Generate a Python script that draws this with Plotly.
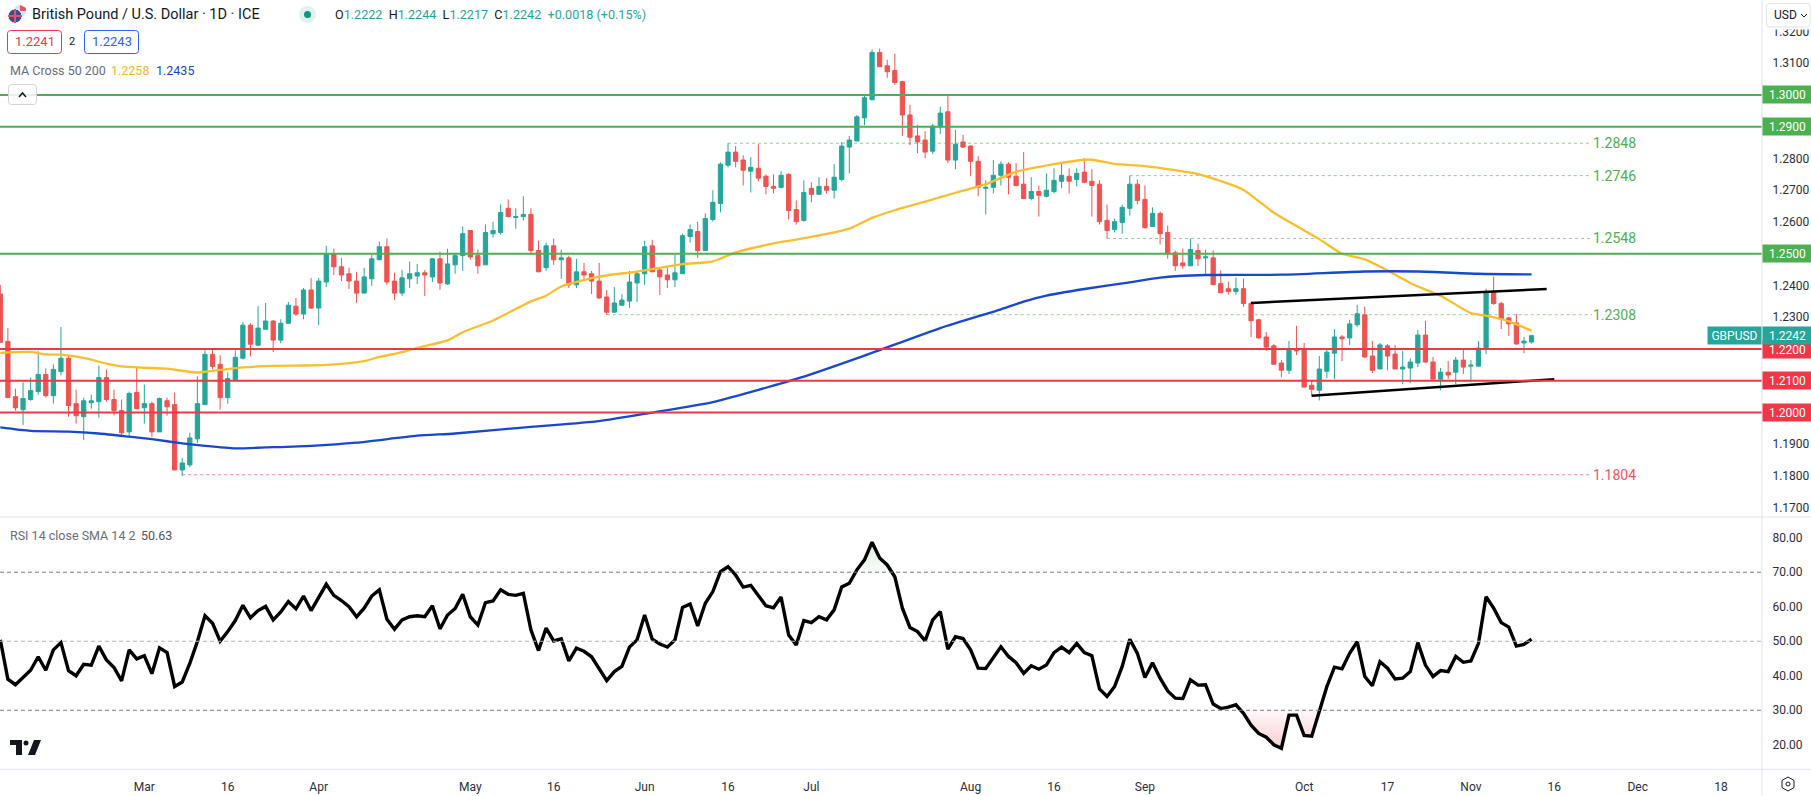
import plotly.graph_objects as go

# GBPUSD daily bars. Index 0 is the first bar of March
bar_index = list(range(-19, 184))

opens = [
    1.2373,1.2224,1.2050,1.2009,1.2041,1.2066,1.2120,1.2053,1.2129,1.2171,
    1.2028,1.1987,1.2031,1.2034,1.2110,1.2041,1.2006,1.1939,1.2063,
    1.2015,1.2028,1.1939,1.2037,1.2025,1.1819,1.1835,1.1917,1.2025,1.2183,
    1.2152,1.2047,1.2104,1.2171,1.2275,1.2212,1.2262,1.2288,1.2228,1.2281,
    1.2335,1.2310,1.2386,1.2329,1.2411,1.2500,1.2459,1.2437,1.2414,1.2376,
    1.2421,1.2481,1.2522,1.2414,1.2376,1.2421,1.2430,1.2440,1.2427,1.2484,
    1.2405,1.2465,1.2494,1.2573,1.2494,1.2465,1.2563,1.2567,1.2643,1.2614,
    1.2617,1.2624,1.2510,1.2456,1.2525,1.2481,1.2487,1.2402,1.2443,1.2437,
    1.2414,1.2364,1.2316,1.2338,1.2351,1.2408,1.2437,1.2525,1.2449,1.2433,
    1.2418,1.2437,1.2554,1.2570,1.2510,1.2608,1.2658,1.2779,1.2820,1.2795,
    1.2760,1.2769,1.2744,1.2712,1.2709,1.2750,1.2639,1.2605,1.2706,1.2687,
    1.2712,1.2700,1.2734,1.2836,1.2855,1.2928,1.2985,1.3134,1.3092,1.3077,
    1.3042,1.2937,1.2871,1.2858,1.2823,1.2899,1.2947,1.2795,1.2852,1.2839,
    1.2791,1.2706,1.2709,1.2747,1.2782,1.2744,1.2719,1.2674,1.2696,1.2681,
    1.2696,1.2728,1.2744,1.2734,1.2757,1.2728,1.2719,1.2605,1.2576,1.2598,
    1.2643,1.2719,1.2671,1.2586,1.2627,1.2567,1.2503,1.2471,1.2462,1.2510,
    1.2487,1.2487,1.2406,1.2390,1.2381,1.2390,1.2343,1.2292,1.2238,1.2210,
    1.2156,1.2133,1.2200,1.2200,1.2086,1.2070,1.2130,1.2187,1.2238,1.2235,
    1.2276,1.2308,1.2178,1.2137,1.2210,1.2184,1.2137,1.2140,1.2156,1.2244,
    1.2159,1.2105,1.2127,1.2127,1.2165,1.2146,1.2146,1.2200,1.2377,1.2343,
    1.2298,1.2282,1.2219,1.2222,
]
highs = [
    1.2402,1.2266,1.2075,1.2095,1.2110,1.2193,1.2139,1.2152,1.2269,1.2180,
    1.2072,1.2047,1.2056,1.2148,1.2136,1.2072,1.2041,1.2066,1.2142,
    1.2088,1.2034,1.2047,1.2047,1.2063,1.1857,1.1936,1.2114,1.2196,1.2199,
    1.2180,1.2126,1.2196,1.2285,1.2281,1.2335,1.2345,1.2291,1.2294,1.2348,
    1.2361,1.2392,1.2424,1.2424,1.2525,1.2516,1.2487,1.2456,1.2443,1.2456,
    1.2497,1.2538,1.2548,1.2440,1.2449,1.2475,1.2468,1.2449,1.2487,1.2506,
    1.2516,1.2500,1.2586,1.2573,1.2513,1.2592,1.2601,1.2655,1.2671,1.2643,
    1.2681,1.2643,1.2541,1.2535,1.2548,1.2513,1.2494,1.2484,1.2471,1.2446,
    1.2471,1.2386,1.2395,1.2373,1.2446,1.2443,1.2541,1.2544,1.2456,1.2459,
    1.2497,1.2563,1.2592,1.2601,1.2627,1.2700,1.2788,1.2848,1.2839,1.2810,
    1.2804,1.2845,1.2750,1.2750,1.2760,1.2753,1.2668,1.2731,1.2725,1.2741,
    1.2738,1.2782,1.2852,1.2871,1.2937,1.3000,1.3143,1.3146,1.3111,1.3130,
    1.3045,1.2969,1.2906,1.2886,1.2909,1.2963,1.2997,1.2890,1.2874,1.2842,
    1.2807,1.2731,1.2795,1.2791,1.2788,1.2785,1.2820,1.2741,1.2715,1.2753,
    1.2769,1.2788,1.2769,1.2769,1.2801,1.2766,1.2731,1.2655,1.2611,1.2655,
    1.2746,1.2734,1.2715,1.2646,1.2633,1.2589,1.2510,1.2516,1.2548,1.2532,
    1.2513,1.2510,1.2447,1.2412,1.2425,1.2422,1.2349,1.2295,1.2254,1.2216,
    1.2165,1.2225,1.2273,1.2219,1.2099,1.2178,1.2197,1.2263,1.2244,1.2292,
    1.2339,1.2333,1.2225,1.2219,1.2216,1.2213,1.2194,1.2171,1.2260,1.2289,
    1.2175,1.2140,1.2162,1.2175,1.2200,1.2165,1.2225,1.2390,1.2428,1.2349,
    1.2301,1.2311,1.2238,1.2244,
]
lows = [
    1.2221,1.2047,1.2006,1.1961,1.2037,1.2056,1.2047,1.2028,1.2117,1.1987,
    1.1965,1.1914,1.2012,1.1984,1.2034,1.1990,1.1927,1.1923,1.2012,
    1.1965,1.1923,1.1939,1.1990,1.1819,1.1800,1.1828,1.1904,1.2025,1.2136,
    1.2009,1.2028,1.2101,1.2167,1.2177,1.2209,1.2262,1.2190,1.2218,1.2281,
    1.2304,1.2294,1.2326,1.2275,1.2395,1.2433,1.2414,1.2389,1.2345,1.2376,
    1.2399,1.2481,1.2402,1.2354,1.2367,1.2392,1.2405,1.2367,1.2411,1.2386,
    1.2402,1.2437,1.2446,1.2481,1.2437,1.2465,1.2551,1.2560,1.2614,1.2579,
    1.2605,1.2497,1.2443,1.2446,1.2465,1.2421,1.2392,1.2392,1.2414,1.2373,
    1.2357,1.2307,1.2313,1.2335,1.2329,1.2348,1.2402,1.2443,1.2370,1.2392,
    1.2395,1.2437,1.2535,1.2487,1.2510,1.2601,1.2630,1.2772,1.2772,1.2715,
    1.2693,1.2728,1.2687,1.2690,1.2706,1.2608,1.2592,1.2601,1.2662,1.2687,
    1.2690,1.2674,1.2728,1.2753,1.2855,1.2905,1.2985,1.3089,1.3054,1.3032,
    1.2871,1.2842,1.2817,1.2801,1.2814,1.2877,1.2785,1.2766,1.2833,1.2744,
    1.2681,1.2624,1.2690,1.2715,1.2687,1.2712,1.2671,1.2668,1.2617,1.2677,
    1.2690,1.2706,1.2690,1.2712,1.2722,1.2617,1.2592,1.2548,1.2567,1.2563,
    1.2620,1.2655,1.2579,1.2586,1.2529,1.2484,1.2446,1.2452,1.2462,1.2462,
    1.2437,1.2400,1.2377,1.2371,1.2371,1.2333,1.2238,1.2232,1.2194,1.2152,
    1.2111,1.2121,1.2181,1.2080,1.2051,1.2038,1.2108,1.2105,1.2162,1.2213,
    1.2270,1.2171,1.2124,1.2137,1.2133,1.2137,1.2089,1.2092,1.2143,1.2156,
    1.2105,1.2070,1.2105,1.2089,1.2121,1.2095,1.2146,1.2184,1.2339,1.2263,
    1.2241,1.2213,1.2187,1.2217,
]
closes = [
    1.2221,1.2047,1.2015,1.2044,1.2069,1.2120,1.2053,1.2136,1.2171,1.2022,
    1.1990,1.2037,1.2037,1.2110,1.2041,1.2006,1.1936,1.2060,1.2012,
    1.2028,1.1939,1.2044,1.2018,1.1819,1.1841,1.1920,1.2028,1.2183,1.2145,
    1.2047,1.2107,1.2174,1.2275,1.2215,1.2266,1.2288,1.2228,1.2281,1.2338,
    1.2310,1.2386,1.2329,1.2414,1.2500,1.2459,1.2433,1.2414,1.2376,1.2427,
    1.2484,1.2522,1.2411,1.2376,1.2424,1.2437,1.2440,1.2433,1.2484,1.2408,
    1.2468,1.2494,1.2563,1.2490,1.2462,1.2567,1.2573,1.2630,1.2617,1.2617,
    1.2624,1.2510,1.2443,1.2525,1.2481,1.2487,1.2402,1.2443,1.2433,1.2414,
    1.2361,1.2316,1.2345,1.2354,1.2411,1.2437,1.2522,1.2443,1.2427,1.2418,
    1.2440,1.2557,1.2576,1.2510,1.2611,1.2662,1.2782,1.2820,1.2791,1.2763,
    1.2772,1.2738,1.2712,1.2706,1.2747,1.2636,1.2601,1.2693,1.2687,1.2712,
    1.2700,1.2741,1.2839,1.2858,1.2931,1.2991,1.3134,1.3089,1.3073,1.3039,
    1.2937,1.2867,1.2852,1.2820,1.2902,1.2943,1.2795,1.2845,1.2836,1.2791,
    1.2709,1.2709,1.2747,1.2782,1.2741,1.2715,1.2674,1.2696,1.2684,1.2700,
    1.2731,1.2747,1.2728,1.2753,1.2725,1.2715,1.2601,1.2573,1.2601,1.2646,
    1.2719,1.2668,1.2582,1.2627,1.2563,1.2500,1.2462,1.2462,1.2513,1.2484,
    1.2490,1.2403,1.2377,1.2381,1.2390,1.2343,1.2289,1.2235,1.2206,1.2152,
    1.2133,1.2200,1.2194,1.2080,1.2073,1.2137,1.2190,1.2238,1.2232,1.2279,
    1.2311,1.2175,1.2133,1.2213,1.2178,1.2137,1.2143,1.2159,1.2244,1.2159,
    1.2105,1.2127,1.2118,1.2165,1.2143,1.2149,1.2203,1.2377,1.2343,1.2295,
    1.2279,1.2216,1.2225,1.2242,
]

# MA 50, sampled at the bars where the curve could be read
ma50_x = [-19,-15,-13,-11,-8,-5,-3,0,3,7,10,13,17,21,24,29,31,34,36,40,42,46,51,53,55,60,65,71,75,78,84,
          88,93,96,99,103,107,111,115,120,124,125,128,132,136,139,142,145,149,152,155,158,161,164,167,
          169,171,175,177,180,183]
ma50_y = [1.2188,1.2191,1.2183,1.2182,1.2172,1.2154,1.2145,1.2141,1.2138,1.2126,1.2134,1.2142,1.2147,
          1.2148,1.2150,1.2162,1.2175,1.2190,1.2204,1.2227,1.2253,1.2290,1.2350,1.2368,1.2397,1.2428,1.2444,
          1.2467,1.2476,1.2504,1.2537,1.2553,1.2579,1.2613,1.2637,1.2664,1.2692,1.2719,1.2758,1.2782,
          1.2796,1.2796,1.2783,1.2776,1.2763,1.2751,1.2729,1.2701,1.2629,1.2587,1.2546,1.2500,1.2482,
          1.2447,1.2408,1.2387,1.2368,1.2313,1.2305,1.2287,1.2258]

# MA 200
ma200_x = [-19,-15,-10,-6,-2,1,5,8,12,16,22,28,36,41,51,60,67,75,87,95,105,113,116,119,124,130,134,
           140,150,161,168,176,183]
ma200_y = [1.1953,1.1942,1.1940,1.1934,1.1924,1.1916,1.1903,1.1895,1.1887,1.1890,1.1895,1.1905,1.1927,
           1.1934,1.1955,1.1973,1.2000,1.2033,1.2113,1.2179,1.2266,1.2325,1.2349,1.2368,1.2389,1.2410,
           1.2425,1.2433,1.2434,1.2444,1.2444,1.2437,1.2435]

# RSI 14, one value per bar
rsi = [
    50.4,39.0,37.4,39.5,41.6,45.5,41.6,47.5,49.6,41.5,40.0,43.3,43.1,48.6,44.6,42.4,38.5,47.5,44.9,
    45.8,40.6,48.1,46.7,36.9,38.2,43.6,49.9,57.4,55.2,50.0,52.8,56.0,60.4,56.8,58.9,60.1,56.2,58.5,61.5,
    59.4,63.1,58.9,62.8,66.5,63.3,61.8,60.0,57.1,59.6,63.1,64.9,56.4,53.5,56.2,57.1,57.4,57.1,60.3,53.6,
    57.6,59.5,63.6,57.1,54.7,61.2,61.7,64.9,63.6,63.3,63.9,53.3,47.3,53.8,50.1,50.7,44.3,48.0,47.1,45.5,
    41.9,38.6,41.2,42.7,48.3,50.4,57.6,50.6,49.2,48.3,50.4,59.8,60.8,54.4,61.0,64.4,70.2,71.6,69.2,65.7,
    66.2,63.1,60.3,59.7,62.8,51.8,48.9,56.0,55.4,57.1,56.2,59.1,65.7,66.8,70.7,73.6,78.7,74.1,72.1,68.7,
    59.6,54.0,52.8,50.1,56.2,58.6,47.7,51.3,50.8,47.5,42.2,42.1,45.3,48.4,45.6,43.8,40.7,42.9,41.9,43.1,
    46.7,48.3,46.7,49.4,46.7,45.8,36.2,34.0,36.9,42.7,50.6,46.5,39.5,43.8,39.3,35.6,33.5,33.4,38.8,37.3,
    37.4,31.8,30.5,30.9,31.6,29.1,25.7,23.3,22.2,20.0,19.0,28.6,28.6,22.7,22.5,30.1,36.9,42.5,42.0,46.5,
    49.9,39.8,37.1,44.1,42.2,39.1,39.3,41.2,49.6,43.1,39.8,41.5,41.2,45.6,43.9,44.3,49.4,62.9,59.6,55.4,
    54.1,48.6,49.1,50.63,
]

# horizontal support and resistance levels
green_levels = [1.3000, 1.2900, 1.2500]
red_levels = [1.2200, 1.2100, 1.2000]

# dotted swing levels and the bar each one starts on
swing_levels = [1.2848, 1.2746, 1.2548, 1.2308, 1.1804]
swing_start = [77, 130, 127, 61, 5]
swing_end = 191

# channel drawn by hand on the original
upper_x, upper_y = [146, 185], [1.2345, 1.2389]
lower_x, lower_y = [154, 186], [1.2053, 1.2105]

price_ticks = [1.17, 1.18, 1.19, 1.20, 1.21, 1.22, 1.23, 1.24, 1.25, 1.26, 1.27, 1.28, 1.29, 1.30, 1.31, 1.32]
rsi_ticks = [20, 30, 40, 50, 60, 70, 80]
time_ticks = [0, 11, 23, 43, 54, 66, 77, 88, 109, 120, 132, 153, 164, 175, 186, 197, 208]
time_labels = ["Mar", "16", "Apr", "May", "16", "Jun", "16", "Jul", "Aug", "16", "Sep", "Oct", "17", "Nov", "16", "Dec", "18"]

W, H = 1811, 796
UP, DOWN = "#26a69a", "#ef5350"
GREEN, RED = "#4caf50", "#f23645"
FONT = "Roboto"
AXIS_RIGHT, PANE_SPLIT, PANE_BOTTOM = 1762, 517, 769.3


def px(x):
    return x / W


def py(y):
    return 1 - y / H


def box_path(x0, y0, x1, y1, r=3):
    a, b, c, d = px(x0), py(y0), px(x1), py(y1)
    rx, ry = r / W, r / H
    return (f"M{a + rx},{b} L{c - rx},{b} Q{c},{b} {c},{b - ry} L{c},{d + ry} Q{c},{d} {c - rx},{d} "
            f"L{a + rx},{d} Q{a},{d} {a},{d + ry} L{a},{b - ry} Q{a},{b} {a + rx},{b} Z")


def poly_path(points):
    return "M" + " L".join(f"{px(x)},{py(y)}" for x, y in points) + " Z"


def text_at(x, y, text, color="#131722", size=12, anchor="left"):
    return dict(xref="paper", yref="paper", x=px(x), y=py(y), text=text, showarrow=False,
                xanchor=anchor, yanchor="middle", font=dict(color=color, size=size, family=FONT))


def price_tag(level, text, color, x=AXIS_RIGHT, width=47, size=12):
    return dict(xref="paper", yref="y", x=px(x), y=level, text=text, showarrow=False, xanchor="left",
                yanchor="middle", width=width, height=15, borderpad=1, bgcolor=color, align="center",
                font=dict(color="white", size=size, family=FONT))


fig = go.Figure()

fig.add_trace(go.Candlestick(
    x=bar_index, open=opens, high=highs, low=lows, close=closes,
    increasing=dict(line=dict(color=UP, width=1), fillcolor=UP),
    decreasing=dict(line=dict(color=DOWN, width=1), fillcolor=DOWN),
    xaxis="x", yaxis="y", showlegend=False,
))

for level, start in zip(swing_levels, swing_start):
    color = RED if level < 1.2 else GREEN
    fig.add_trace(go.Scatter(x=[start, swing_end], y=[level, level], mode="lines", opacity=0.6,
                             line=dict(color=color, width=1, dash="dot"), xaxis="x", yaxis="y", showlegend=False))

fig.add_trace(go.Scatter(x=ma50_x, y=ma50_y, mode="lines", line=dict(color="#fbbe2e", width=2.3, shape="spline", smoothing=0.6),
                         xaxis="x", yaxis="y", showlegend=False))
fig.add_trace(go.Scatter(x=ma200_x, y=ma200_y, mode="lines", line=dict(color="#1848cc", width=2.3, shape="spline", smoothing=0.6),
                         xaxis="x", yaxis="y", showlegend=False))

for xs, ys in [(upper_x, upper_y), (lower_x, lower_y)]:
    fig.add_trace(go.Scatter(x=xs, y=ys, mode="lines", line=dict(color="#000000", width=2.5),
                             xaxis="x", yaxis="y", showlegend=False))

# shading where the RSI leaves the 30-70 band
fig.add_trace(go.Scatter(x=bar_index, y=[30] * len(rsi), mode="lines", line=dict(width=0),
                         xaxis="x2", yaxis="y2", showlegend=False))
fig.add_trace(go.Scatter(x=bar_index, y=[min(v, 30) for v in rsi], mode="lines", line=dict(width=0),
                         fill="tonexty", fillgradient=dict(type="vertical", start=30, stop=19,
                                                           colorscale=[[0, "rgba(242,54,69,0.03)"], [1, "rgba(242,54,69,0.25)"]]),
                         xaxis="x2", yaxis="y2", showlegend=False))
fig.add_trace(go.Scatter(x=bar_index, y=[70] * len(rsi), mode="lines", line=dict(width=0),
                         xaxis="x2", yaxis="y2", showlegend=False))
fig.add_trace(go.Scatter(x=bar_index, y=[max(v, 70) for v in rsi], mode="lines", line=dict(width=0),
                         fill="tonexty", fillgradient=dict(type="vertical", start=70, stop=79,
                                                           colorscale=[[0, "rgba(76,175,80,0.03)"], [1, "rgba(76,175,80,0.2)"]]),
                         xaxis="x2", yaxis="y2", showlegend=False))
fig.add_trace(go.Scatter(x=bar_index, y=rsi, mode="lines", line=dict(color="#000000", width=3.4),
                         xaxis="x2", yaxis="y2", showlegend=False))

shapes = []
for level in green_levels + red_levels:
    shapes.append(dict(type="line", xref="paper", yref="y", x0=0, x1=px(AXIS_RIGHT), y0=level, y1=level,
                       line=dict(color=GREEN if level in green_levels else RED, width=2)))
for level, color in [(70, "#787b86"), (50, "#b2b5be"), (30, "#787b86")]:
    shapes.append(dict(type="line", xref="paper", yref="y2", x0=0, x1=px(AXIS_RIGHT), y0=level, y1=level,
                       line=dict(color=color, width=1, dash="4px,3px")))

# pane borders
for y in [PANE_SPLIT, PANE_BOTTOM]:
    shapes.append(dict(type="line", xref="paper", yref="paper", x0=0, x1=1, y0=py(y), y1=py(y),
                       line=dict(color="#e0e3eb", width=1)))
shapes.append(dict(type="line", xref="paper", yref="paper", x0=px(AXIS_RIGHT), x1=px(AXIS_RIGHT), y0=0, y1=1,
                   line=dict(color="#e0e3eb", width=1)))

# header widgets
shapes += [
    dict(type="circle", xref="paper", yref="paper", x0=px(14), x1=px(26), y0=py(17), y1=py(5),
         fillcolor="#d9dfee", line=dict(width=0)),
    dict(type="path", xref="paper", yref="paper", path=poly_path([(20, 5), (26, 8), (26, 11), (20, 11)]),
         fillcolor="#e25563", line=dict(width=0)),
    dict(type="circle", xref="paper", yref="paper", x0=px(8), x1=px(22), y0=py(23), y1=py(9),
         fillcolor="#3a4f92", line=dict(color="white", width=1)),
    dict(type="line", xref="paper", yref="paper", x0=px(8), x1=px(22), y0=py(16), y1=py(16),
         line=dict(color="#e25563", width=2)),
    dict(type="line", xref="paper", yref="paper", x0=px(15), x1=px(15), y0=py(9), y1=py(23),
         line=dict(color="#e25563", width=2)),
    dict(type="circle", xref="paper", yref="paper", x0=px(299), x1=px(316), y0=py(23), y1=py(6),
         fillcolor="#e0f2ef", line=dict(width=0)),
    dict(type="circle", xref="paper", yref="paper", x0=px(304), x1=px(311), y0=py(18), y1=py(11),
         fillcolor="#089981", line=dict(width=0)),
    dict(type="path", xref="paper", yref="paper", path=box_path(7.5, 30.5, 61.5, 53.5), line=dict(color=RED, width=1)),
    dict(type="path", xref="paper", yref="paper", path=box_path(84.5, 30.5, 138.5, 53.5), line=dict(color="#2962ff", width=1)),
    dict(type="path", xref="paper", yref="paper", path=box_path(8.5, 84.5, 36.5, 104.5), fillcolor="rgba(255,255,255,0.85)",
         line=dict(color="#d1d4dc", width=1)),
    dict(type="path", xref="paper", yref="paper", path=f"M{px(19)},{py(97)} L{px(22.5)},{py(93)} L{px(26)},{py(97)}",
         line=dict(color="#131722", width=1.5)),
    dict(type="rect", xref="paper", yref="paper", x0=px(1764), x1=1, y0=py(29.5), y1=1, fillcolor="white", line=dict(width=0)),
    dict(type="path", xref="paper", yref="paper", path=box_path(1766.5, 3.5, 1810, 27), fillcolor="white",
         line=dict(color="#e0e3eb", width=1)),
    dict(type="path", xref="paper", yref="paper", path=f"M{px(1801)},{py(14)} L{px(1804)},{py(17)} L{px(1807)},{py(14)}",
         line=dict(color="#131722", width=1)),
    # TradingView mark
    dict(type="path", xref="paper", yref="paper", path=poly_path([(10, 740), (22, 740), (22, 755), (16, 755), (16, 745), (10, 745)]),
         fillcolor="#131722", line=dict(width=0)),
    dict(type="circle", xref="paper", yref="paper", x0=px(23.5), x1=px(28.5), y0=py(745.5), y1=py(740.5),
         fillcolor="#131722", line=dict(width=0)),
    dict(type="path", xref="paper", yref="paper", path=poly_path([(34, 740), (41, 740), (35, 755), (28, 755)]),
         fillcolor="#131722", line=dict(width=0)),
    # settings gear
    dict(type="path", xref="paper", yref="paper",
         path=poly_path([(1788, 777), (1794, 780.5), (1794, 787.5), (1788, 791), (1782, 787.5), (1782, 780.5)]),
         line=dict(color="#131722", width=1)),
    dict(type="circle", xref="paper", yref="paper", x0=px(1786), x1=px(1790), y0=py(786), y1=py(782),
         line=dict(color="#131722", width=1)),
]

teal = "#26a69a"
ohlc = (f"O<span style='color:{teal}'>{opens[-1]:.4f}</span>  H<span style='color:{teal}'>{highs[-1]:.4f}</span>  "
        f"L<span style='color:{teal}'>{lows[-1]:.4f}</span>  C<span style='color:{teal}'>{closes[-1]:.4f}</span>  "
        f"<span style='color:{teal}'>+0.0018 (+0.15%)</span>")

annotations = [
    text_at(30, 15, "British Pound / U.S. Dollar · 1D · ICE", size=14.5),
    text_at(333, 14.5, ohlc, size=12.6),
    text_at(34.5, 42, "1.2241", RED, 13, "center"),
    text_at(72, 42, "2", size=11, anchor="center"),
    text_at(111.5, 42, "1.2243", "#2962ff", 13, "center"),
    text_at(8, 70.5, "MA Cross 50 200", "#6a6d78", 12.5),
    text_at(109, 70.5, "1.2258", "#fbb32e", 12.5),
    text_at(154, 70.5, "1.2435", "#1848cc", 12.5),
    text_at(8, 535, "RSI 14 close SMA 14 2", "#6a6d78", 12.5),
    text_at(139, 535, "50.63", "#50535e", 12.5),
    text_at(1772, 15, "USD", size=12),
]
for level, start in zip(swing_levels, swing_start):
    annotations.append(dict(xref="x", yref="y", x=swing_end - 0.1, y=level, text=f"{level:.4f}", showarrow=False,
                            xanchor="left", yanchor="middle",
                            font=dict(color="#f7525f" if level < 1.2 else GREEN, size=14, family=FONT)))
for level in green_levels:
    annotations.append(price_tag(level, f"{level:.4f}", GREEN))
for level in red_levels:
    annotations.append(price_tag(level, f"{level:.4f}", RED))
annotations.append(price_tag(closes[-1], f"{closes[-1]:.4f}", UP))
annotations.append(price_tag(closes[-1], "GBPUSD", UP, x=1707, width=51))

x_range = [-19.04, 213.4]
fig.update_layout(
    width=W, height=H, margin=dict(l=0, r=0, t=0, b=0, pad=0),
    paper_bgcolor="white", plot_bgcolor="white",
    font=dict(family=FONT, color="#131722", size=12),
    showlegend=False, hovermode=False, boxgap=0.2,
    shapes=shapes, annotations=annotations,
    xaxis=dict(domain=[0, px(AXIS_RIGHT)], range=x_range, anchor="y", showgrid=False, zeroline=False,
               showticklabels=False, ticks="", rangeslider=dict(visible=False)),
    yaxis=dict(domain=[py(PANE_SPLIT), 1], range=[1.1671, 1.3299], anchor="x", side="right", showgrid=False,
               zeroline=False, tickvals=price_ticks, tickformat=".4f", ticks="outside", ticklen=7,
               tickcolor="rgba(0,0,0,0)", tickfont=dict(size=12, color="#2a2e39")),
    xaxis2=dict(domain=[0, px(AXIS_RIGHT)], range=x_range, anchor="y2", showgrid=False, zeroline=False,
                tickvals=time_ticks, ticktext=time_labels, ticks="outside", ticklen=6,
                tickcolor="rgba(0,0,0,0)", tickfont=dict(size=12, color="#2a2e39")),
    yaxis2=dict(domain=[py(PANE_BOTTOM), py(PANE_SPLIT)], range=[12.9, 86.0], anchor="x2", side="right", showgrid=False,
                zeroline=False, tickvals=rsi_ticks, tickformat=".2f", ticks="outside", ticklen=7,
                tickcolor="rgba(0,0,0,0)", tickfont=dict(size=12, color="#2a2e39")),
)

fig.write_html("out.html", config={"displayModeBar": False},
               post_script="document.body.style.margin='0';document.body.style.overflow='hidden';")
